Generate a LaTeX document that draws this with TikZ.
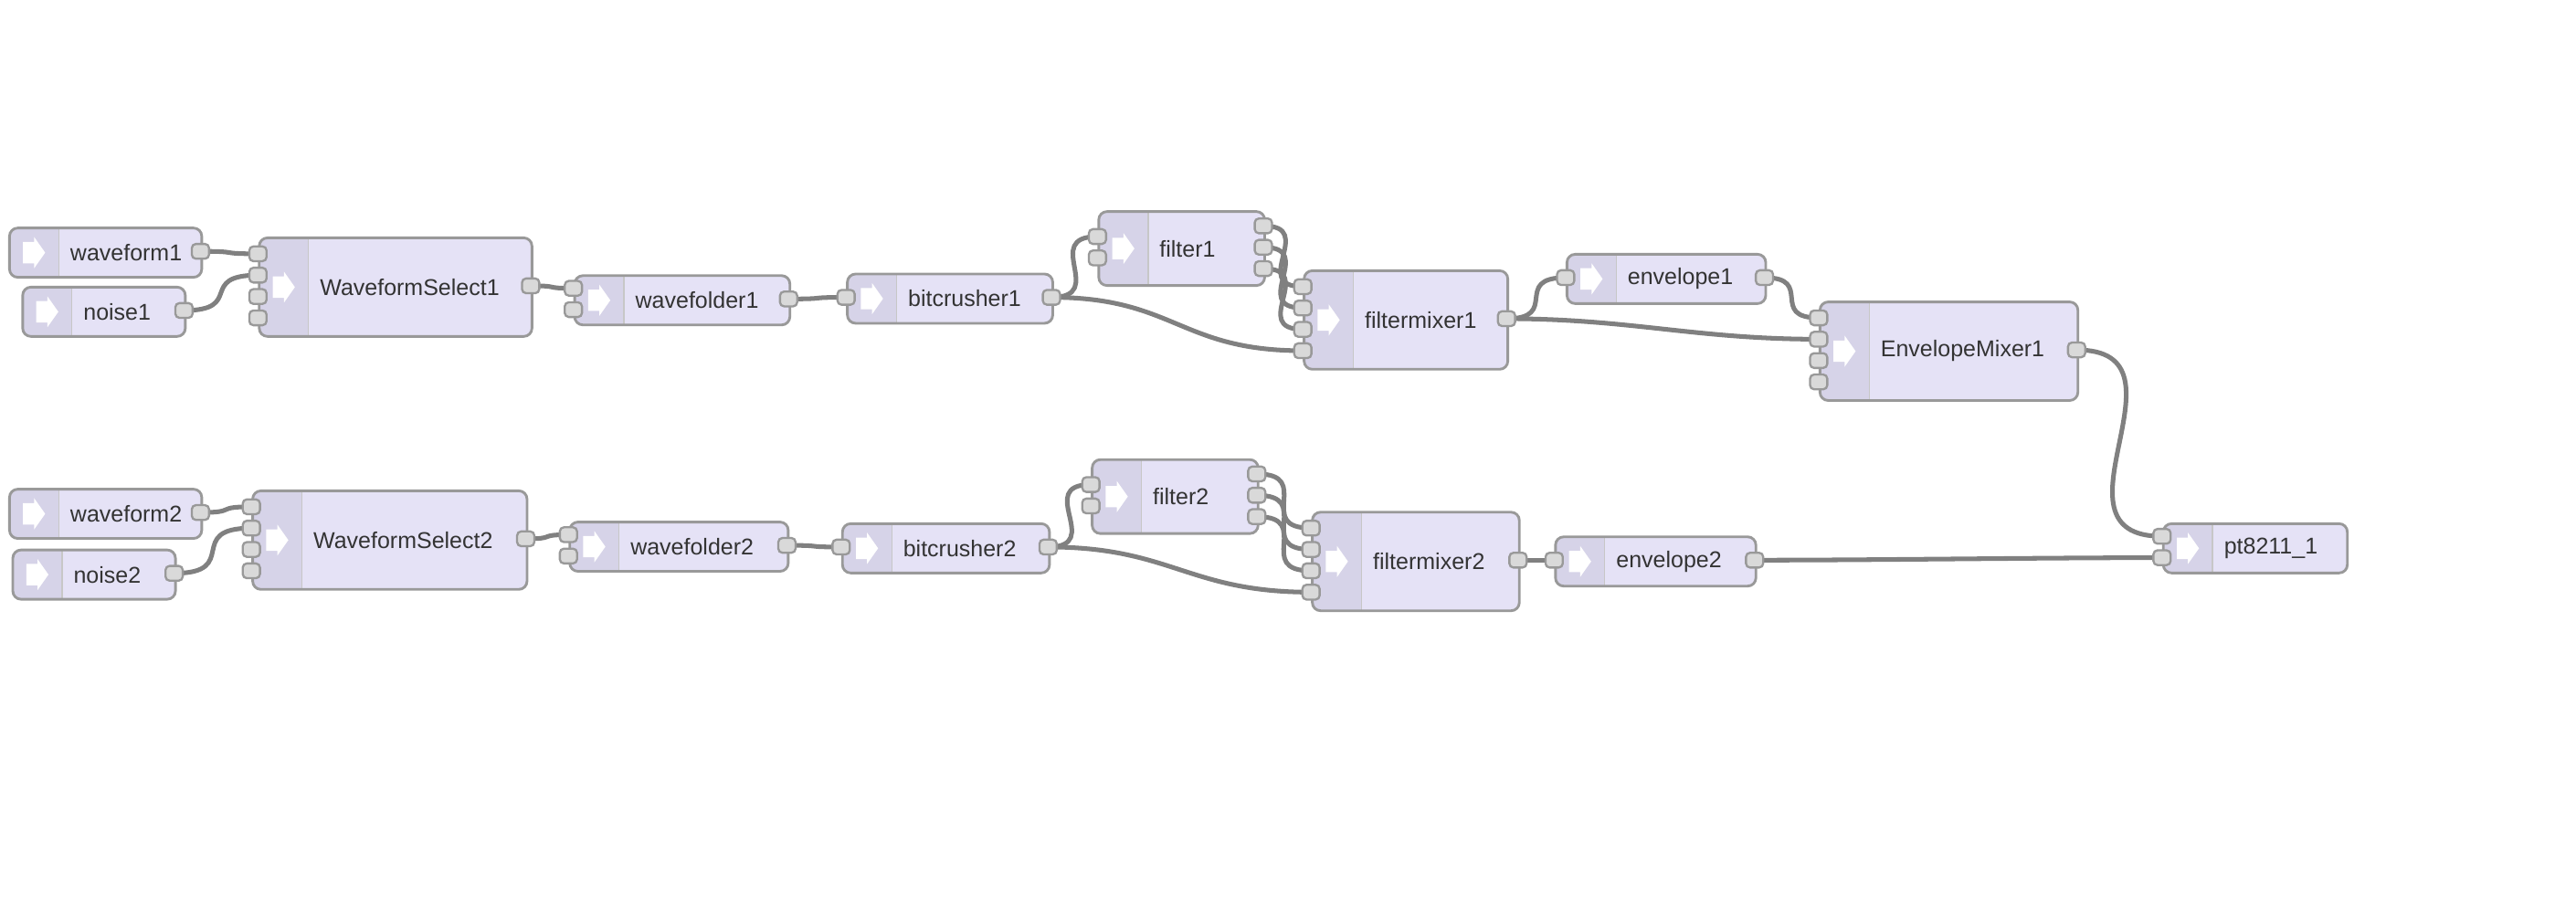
\documentclass[tikz,border=0pt]{standalone}
\usepackage{fontspec}
\setmainfont{Liberation Sans}
\usetikzlibrary{backgrounds,calc}
\definecolor{modfill}{RGB}{229,226,246}
\definecolor{modhead}{RGB}{214,211,232}
\definecolor{modline}{RGB}{153,153,153}
\definecolor{portfill}{RGB}{217,217,217}
\definecolor{wirecol}{RGB}{128,128,128}
\definecolor{labelcol}{RGB}{51,51,51}

\begin{document}
\begin{tikzpicture}[
  x=1pt, y=-1pt,
  every node/.style={font=\fontsize{13.9}{16}\selectfont, text=labelcol},
  mod/.style={draw=modline, fill=modfill, line width=1.6pt, rounded corners=5pt,
              anchor=north west, inner sep=0pt, align=left,
              execute at begin node=\hspace*{37pt},
              path picture={
                \fill[modhead, sharp corners] (path picture bounding box.north west)
                  rectangle ([xshift=30pt]path picture bounding box.south west);
                \draw[modline!55, line width=0.8pt]
                  ([xshift=30pt]path picture bounding box.north west)
                  -- ([xshift=30pt]path picture bounding box.south west);
                \fill[white, sharp corners] ([xshift=15pt]path picture bounding box.west)
                  ++(-6.8pt,6.5pt) -- ++(6.8pt,0pt) -- ++(0pt,3pt) -- ++(6.7pt,-9.5pt)
                  -- ++(-6.7pt,-9.5pt) -- ++(0pt,3pt) -- ++(-6.8pt,0pt) -- cycle;
              }},
  port/.style={draw=modline, fill=portfill, line width=1.3pt, rounded corners=2.5pt,
               minimum width=10.5pt, minimum height=9pt, inner sep=0pt},
  wire/.style={draw=wirecol, line width=2.8pt}
]
\useasboundingbox (0,0) rectangle (1568,558);

% voice 1
\node[mod, text width=117pt, minimum height=30pt] (wf1) at (5,138) {waveform1};
\node[mod, text width=99pt, minimum height=30pt] (ns1) at (13,174) {noise1};
\node[mod, text width=166pt, minimum height=60pt] (ws1) at (157,144) {WaveformSelect1};
\node[mod, text width=131pt, minimum height=30pt] (fold1) at (349,167) {wavefolder1};
\node[mod, text width=125pt, minimum height=30pt] (bc1) at (515,166) {bitcrusher1};
\node[mod, text width=101pt, minimum height=45pt] (flt1) at (668,128) {filter1};
\node[mod, text width=124pt, minimum height=60pt] (fm1) at (793,164) {filtermixer1};
\node[mod, text width=121pt, minimum height=30pt] (env1) at (953,154) {envelope1};
\node[mod, text width=157pt, minimum height=60pt] (em1) at (1107,183) {EnvelopeMixer1};
\node[mod, text width=112pt, minimum height=30pt] (dac) at (1316,318) {pt8211\_1};

% voice 2
\node[mod, text width=117pt, minimum height=30pt] (wf2) at (5,297) {waveform2};
\node[mod, text width=99pt, minimum height=30pt] (ns2) at (7,334) {noise2};
\node[mod, text width=167pt, minimum height=60pt] (ws2) at (153,298) {WaveformSelect2};
\node[mod, text width=133pt, minimum height=30pt] (fold2) at (346,317) {wavefolder2};
\node[mod, text width=126pt, minimum height=30pt] (bc2) at (512,318) {bitcrusher2};
\node[mod, text width=101pt, minimum height=45pt] (flt2) at (664,279) {filter2};
\node[mod, text width=126pt, minimum height=60pt] (fm2) at (798,311) {filtermixer2};
\node[mod, text width=122pt, minimum height=30pt] (env2) at (946,326) {envelope2};

% ports
\node[port] (wf1-o1) at (122,153) {};
\node[port] (ns1-o1) at (112,189) {};
\foreach \k/\py in {1/154.5, 2/167.5, 3/180.5, 4/193.5} \node[port] (ws1-i\k) at (157,\py) {};
\node[port] (ws1-o1) at (323,174) {};
\foreach \k/\py in {1/175.5, 2/188.5} \node[port] (fold1-i\k) at (349,\py) {};
\node[port] (fold1-o1) at (480,182) {};
\node[port] (bc1-i1) at (515,181) {};
\node[port] (bc1-o1) at (640,181) {};
\foreach \k/\py in {1/144, 2/157} \node[port] (flt1-i\k) at (668,\py) {};
\foreach \k/\py in {1/137.5, 2/150.5, 3/163.5} \node[port] (flt1-o\k) at (769,\py) {};
\foreach \k/\py in {1/174.5, 2/187.5, 3/200.5, 4/213.5} \node[port] (fm1-i\k) at (793,\py) {};
\node[port] (fm1-o1) at (917,194) {};
\node[port] (env1-i1) at (953,169) {};
\node[port] (env1-o1) at (1074,169) {};
\foreach \k/\py in {1/193.5, 2/206.5, 3/219.5, 4/232.5} \node[port] (em1-i\k) at (1107,\py) {};
\node[port] (em1-o1) at (1264,213) {};
\foreach \k/\py in {1/326.5, 2/339.5} \node[port] (dac-i\k) at (1316,\py) {};

\node[port] (wf2-o1) at (122,312) {};
\node[port] (ns2-o1) at (106,349) {};
\foreach \k/\py in {1/308.5, 2/321.5, 3/334.5, 4/347.5} \node[port] (ws2-i\k) at (153,\py) {};
\node[port] (ws2-o1) at (320,328) {};
\foreach \k/\py in {1/325.5, 2/338.5} \node[port] (fold2-i\k) at (346,\py) {};
\node[port] (fold2-o1) at (479,332) {};
\node[port] (bc2-i1) at (512,333) {};
\node[port] (bc2-o1) at (638,333) {};
\foreach \k/\py in {1/295, 2/308} \node[port] (flt2-i\k) at (664,\py) {};
\foreach \k/\py in {1/288.5, 2/301.5, 3/314.5} \node[port] (flt2-o\k) at (765,\py) {};
\foreach \k/\py in {1/321.5, 2/334.5, 3/347.5, 4/360.5} \node[port] (fm2-i\k) at (798,\py) {};
\node[port] (fm2-o1) at (924,341) {};
\node[port] (env2-i1) at (946,341) {};
\node[port] (env2-o1) at (1068,341) {};

% wires, behind the modules
\begin{scope}[on background layer]
\foreach \a/\b/\cx in {wf1-o1/ws1-i1/26, ns1-o1/ws1-i2/37, ws1-o1/fold1-i1/19.5,
    fold1-o1/bc1-i1/26, bc1-o1/flt1-i1/34.5, bc1-o1/fm1-i4/75,
    flt1-o1/fm1-i1/33, flt1-o2/fm1-i2/33, flt1-o3/fm1-i3/33,
    fm1-o1/env1-i1/33, fm1-o1/em1-i2/75, env1-o1/em1-i1/30.6, em1-o1/dac-i1/75,
    wf2-o1/ws2-i1/23, ns2-o1/ws2-i2/41, ws2-o1/fold2-i1/19.7,
    fold2-o1/bc2-i1/24.8, bc2-o1/flt2-i1/34.5, bc2-o1/fm2-i4/75,
    flt2-o1/fm2-i1/35, flt2-o2/fm2-i2/35, flt2-o3/fm2-i3/35,
    fm2-o1/env2-i1/16.5, env2-o1/dac-i2/75}
  \draw[wire] (\a.center) .. controls +(\cx,0) and +(-\cx,0) .. (\b.center);
\end{scope}

\end{tikzpicture}
\end{document}
